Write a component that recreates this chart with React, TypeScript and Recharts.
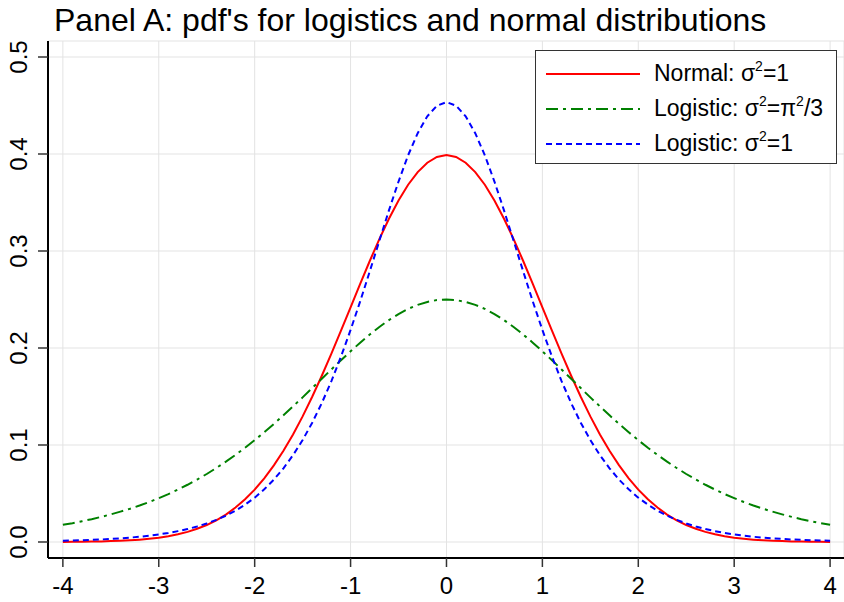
import { LineChart, Line, XAxis, YAxis, CartesianGrid } from "recharts";

// x grid, step 0.1
const xs = [
  -4, -3.9, -3.8, -3.7, -3.6, -3.5, -3.4, -3.3, -3.2, -3.1, -3, -2.9, -2.8,
  -2.7, -2.6, -2.5, -2.4, -2.3, -2.2, -2.1, -2, -1.9, -1.8, -1.7, -1.6, -1.5,
  -1.4, -1.3, -1.2, -1.1, -1, -0.9, -0.8, -0.7, -0.6, -0.5, -0.4, -0.3, -0.2,
  -0.1, 0, 0.1, 0.2, 0.3, 0.4, 0.5, 0.6, 0.7, 0.8, 0.9, 1, 1.1, 1.2, 1.3, 1.4,
  1.5, 1.6, 1.7, 1.8, 1.9, 2, 2.1, 2.2, 2.3, 2.4, 2.5, 2.6, 2.7, 2.8, 2.9, 3,
  3.1, 3.2, 3.3, 3.4, 3.5, 3.6, 3.7, 3.8, 3.9, 4,
];

// Normal: sigma^2 = 1
const normal = [
  0.0001, 0.0002, 0.0003, 0.0004, 0.0006, 0.0009, 0.0012, 0.0017, 0.0024,
  0.0033, 0.0044, 0.006, 0.0079, 0.0104, 0.0136, 0.0175, 0.0224, 0.0283, 0.0355,
  0.044, 0.054, 0.0656, 0.079, 0.094, 0.1109, 0.1295, 0.1497, 0.1714, 0.1942,
  0.2179, 0.242, 0.2661, 0.2897, 0.3123, 0.3332, 0.3521, 0.3683, 0.3814, 0.391,
  0.397, 0.3989, 0.397, 0.391, 0.3814, 0.3683, 0.3521, 0.3332, 0.3123, 0.2897,
  0.2661, 0.242, 0.2179, 0.1942, 0.1714, 0.1497, 0.1295, 0.1109, 0.094, 0.079,
  0.0656, 0.054, 0.044, 0.0355, 0.0283, 0.0224, 0.0175, 0.0136, 0.0104, 0.0079,
  0.006, 0.0044, 0.0033, 0.0024, 0.0017, 0.0012, 0.0009, 0.0006, 0.0004, 0.0003,
  0.0002, 0.0001,
];

// Logistic: sigma^2 = pi^2/3
const logisticWide = [
  0.0177, 0.0194, 0.0214, 0.0235, 0.0259, 0.0285, 0.0313, 0.0343, 0.0376,
  0.0412, 0.0452, 0.0494, 0.054, 0.059, 0.0644, 0.0701, 0.0763, 0.0828, 0.0898,
  0.0972, 0.105, 0.1132, 0.1217, 0.1306, 0.1398, 0.1491, 0.1587, 0.1683, 0.1779,
  0.1874, 0.1966, 0.2055, 0.2139, 0.2217, 0.2288, 0.235, 0.2403, 0.2445, 0.2475,
  0.2494, 0.25, 0.2494, 0.2475, 0.2445, 0.2403, 0.235, 0.2288, 0.2217, 0.2139,
  0.2055, 0.1966, 0.1874, 0.1779, 0.1683, 0.1587, 0.1491, 0.1398, 0.1306, 0.1217,
  0.1132, 0.105, 0.0972, 0.0898, 0.0828, 0.0763, 0.0701, 0.0644, 0.059, 0.054,
  0.0494, 0.0452, 0.0412, 0.0376, 0.0343, 0.0313, 0.0285, 0.0259, 0.0235, 0.0214,
  0.0194, 0.0177,
];

// Logistic: sigma^2 = 1
const logisticUnit = [
  0.0013, 0.0015, 0.0018, 0.0022, 0.0026, 0.0032, 0.0038, 0.0045, 0.0054,
  0.0065, 0.0078, 0.0093, 0.0112, 0.0133, 0.016, 0.0191, 0.0228, 0.0271, 0.0323,
  0.0385, 0.0457, 0.0543, 0.0643, 0.076, 0.0895, 0.1051, 0.123, 0.1432, 0.1659,
  0.1911, 0.2186, 0.248, 0.279, 0.3105, 0.3419, 0.3716, 0.3987, 0.4215, 0.4389,
  0.4498, 0.4535, 0.4498, 0.4389, 0.4215, 0.3987, 0.3716, 0.3419, 0.3105, 0.279,
  0.248, 0.2186, 0.1911, 0.1659, 0.1432, 0.123, 0.1051, 0.0895, 0.076, 0.0643,
  0.0543, 0.0457, 0.0385, 0.0323, 0.0271, 0.0228, 0.0191, 0.016, 0.0133, 0.0112,
  0.0093, 0.0078, 0.0065, 0.0054, 0.0045, 0.0038, 0.0032, 0.0026, 0.0022, 0.0018,
  0.0015, 0.0013,
];

const xTicks = [-4, -3, -2, -1, 0, 1, 2, 3, 4];
const yTicks = [0, 0.1, 0.2, 0.3, 0.4, 0.5];

const data = xs.map((x, i) => ({
  x,
  normal: normal[i],
  logisticWide: logisticWide[i],
  logisticUnit: logisticUnit[i],
}));

const FONT = '"Liberation Sans", Arial, sans-serif';

const XTick = ({ x, payload }: any) => (
  <text
    x={x}
    y={594}
    textAnchor="middle"
    style={{ fontSize: 24, fontFamily: FONT }}
    fill="#000"
  >
    {payload.value}
  </text>
);

const YTick = ({ y, payload }: any) => (
  <text
    x={27}
    y={y}
    transform={`rotate(-90, 27, ${y})`}
    textAnchor="middle"
    style={{ fontSize: 24, fontFamily: FONT }}
    fill="#000"
  >
    {payload.value.toFixed(1)}
  </text>
);

const sup = {
  fontSize: 14,
  verticalAlign: "top",
  position: "relative" as const,
  top: -7,
};

const legendRows = [
  {
    color: "#ff0000",
    dash: undefined,
    label: (
      <>
        Normal: σ<span style={sup}>2</span>=1
      </>
    ),
  },
  {
    color: "#008000",
    dash: "12 5 3 5",
    label: (
      <>
        Logistic: σ<span style={sup}>2</span>=π<span style={sup}>2</span>/3
      </>
    ),
  },
  {
    color: "#0000ff",
    dash: "6 4",
    label: (
      <>
        Logistic: σ<span style={sup}>2</span>=1
      </>
    ),
  },
];

const LegendBox = () => (
  <div
    style={{
      position: "absolute",
      left: 535,
      top: 50,
      width: 302,
      height: 114,
      boxSizing: "border-box",
      border: "1.5px solid #333",
      background: "#fff",
      fontFamily: FONT,
      fontSize: 23,
      color: "#000",
      paddingTop: 5,
    }}
  >
    {legendRows.map((r, i) => (
      <div
        key={i}
        style={{
          display: "flex",
          alignItems: "center",
          height: 35,
          lineHeight: "35px",
        }}
      >
        <svg width={118} height={10} style={{ flex: "none" }}>
          <line
            x1={10}
            x2={104}
            y1={5}
            y2={5}
            stroke={r.color}
            strokeWidth={2}
            strokeDasharray={r.dash}
          />
        </svg>
        <span style={{ whiteSpace: "nowrap" }}>{r.label}</span>
      </div>
    ))}
  </div>
);

export default function App() {
  return (
    <div
      style={{
        position: "absolute",
        left: 0,
        top: 0,
        width: 844,
        height: 602,
        background: "#fff",
      }}
    >
      <LineChart
        width={844}
        height={602}
        data={data}
        margin={{ top: 41, right: 0, bottom: 0, left: 0 }}
      >
        <CartesianGrid stroke="#e3e3e3" strokeWidth={1} />
        <XAxis
          dataKey="x"
          type="number"
          domain={[-4.155, 4.145]}
          ticks={xTicks}
          allowDataOverflow
          height={44}
          tickSize={9}
          tickLine={{ stroke: "#333", strokeWidth: 1.5 }}
          axisLine={{ stroke: "#000", strokeWidth: 2 }}
          tick={<XTick />}
          interval={0}
        />
        <XAxis
          xAxisId="top"
          orientation="top"
          dataKey="x"
          type="number"
          domain={[-4.155, 4.145]}
          height={0}
          tick={false}
          tickLine={false}
          axisLine={{ stroke: "#000", strokeWidth: 1.5 }}
        />
        <YAxis
          type="number"
          domain={[-0.0165, 0.5165]}
          ticks={yTicks}
          allowDataOverflow
          width={48}
          tickSize={10}
          tickLine={{ stroke: "#333", strokeWidth: 1.5 }}
          axisLine={{ stroke: "#000", strokeWidth: 2 }}
          tick={<YTick />}
          interval={0}
        />
        <Line
          type="linear"
          dataKey="normal"
          stroke="#ff0000"
          strokeWidth={2}
          dot={false}
          isAnimationActive={false}
        />
        <Line
          type="linear"
          dataKey="logisticWide"
          stroke="#008000"
          strokeWidth={2}
          strokeDasharray="12 5 3 5"
          dot={false}
          isAnimationActive={false}
        />
        <Line
          type="linear"
          dataKey="logisticUnit"
          stroke="#0000ff"
          strokeWidth={2}
          strokeDasharray="6 4"
          dot={false}
          isAnimationActive={false}
        />
      </LineChart>
      <div
        style={{
          position: "absolute",
          left: 54,
          top: 2,
          fontFamily: FONT,
          fontSize: 32,
          lineHeight: "36px",
          color: "#000",
          whiteSpace: "nowrap",
        }}
      >
        Panel A: pdf's for logistics and normal distributions
      </div>
      <LegendBox />
    </div>
  );
}
